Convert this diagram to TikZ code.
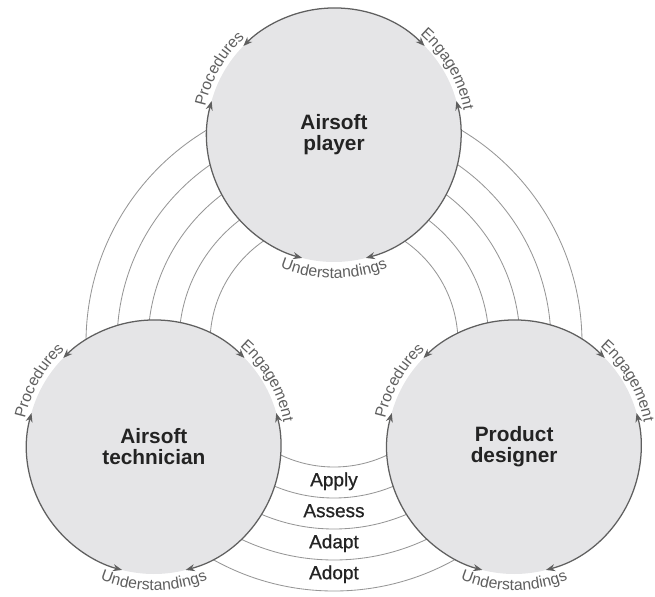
\documentclass[tikz,border=0pt]{standalone}
\usepackage{fontspec}
\setmainfont{Liberation Sans}
\newfontfamily\medfont[FakeBold=0.8]{Liberation Sans}
\usetikzlibrary{arrows.meta,decorations.text}

\definecolor{discfill}{RGB}{229,229,231}
\definecolor{rimgray}{RGB}{95,95,95}
\definecolor{ringgray}{RGB}{150,150,150}
\definecolor{inkgray}{RGB}{35,35,35}
\newcommand{\rimfont}{\fontsize{11.2}{13}\selectfont\color{rimgray}}

\begin{document}
\begin{tikzpicture}[
		actor/.style={circle,fill=discfill,minimum size=6.35cm,inner sep=0pt,align=center,
			text=inkgray,font=\bfseries\fontsize{14.8}{15}\selectfont},
		ring/.style={draw=ringgray,line width=0.6pt},
		rim/.style={draw=rimgray,line width=0.9pt,
			{Stealth[length=6.5pt,width=5pt]}-{Stealth[length=6.5pt,width=5pt]}},
		phase/.style={anchor=mid,text=inkgray,font=\medfont\fontsize{13.5}{15}\selectfont}]
		\useasboundingbox (-8.35,-6.325) rectangle (8.025,8.575);
		\coordinate (hub) at (0,0);
		% rings round the middle
		\foreach \r in {3.1,3.875,4.65,5.425,6.2}
			\draw[ring] (hub) circle (\r);
		\node[actor] (player)     at (90:5.2)  {Airsoft\\player};
		\node[actor] (technician) at (210:5.2) {Airsoft\\technician};
		\node[actor] (designer)   at (330:5.2) {Product\\designer};
		% rims and their labels
		\foreach \n in {player,technician,designer} {
			\foreach \a [evaluate=\a as \s using \a+14.5,
			             evaluate=\a as \e using \a+105.5] in {30,150,270}
				\draw[rim] ([shift={(\s:3.175)}]\n.center) arc (\s:\e:3.175);
			\path[decorate,decoration={text along path,text align=center,
				text={|\rimfont|Procedures}}]
				([shift={(180:3.3)}]\n.center) arc (180:120:3.3);
			\path[decorate,decoration={text along path,text align=center,
				text={|\rimfont|Engagement}}]
				([shift={(60:3.3)}]\n.center) arc (60:0:3.3);
			\path[decorate,decoration={text along path,text align=center,
				text={|\rimfont|Understandings}}]
				([shift={(240:3.58)}]\n.center) arc (240:300:3.58);
		}
		\node[phase] (apply)  at (270:3.4875) {Apply};
		\node[phase] (assess) at (270:4.2625) {Assess};
		\node[phase] (adapt)  at (270:5.0375) {Adapt};
		\node[phase] (adopt)  at (270:5.8125) {Adopt};
	\end{tikzpicture}
\end{document}
